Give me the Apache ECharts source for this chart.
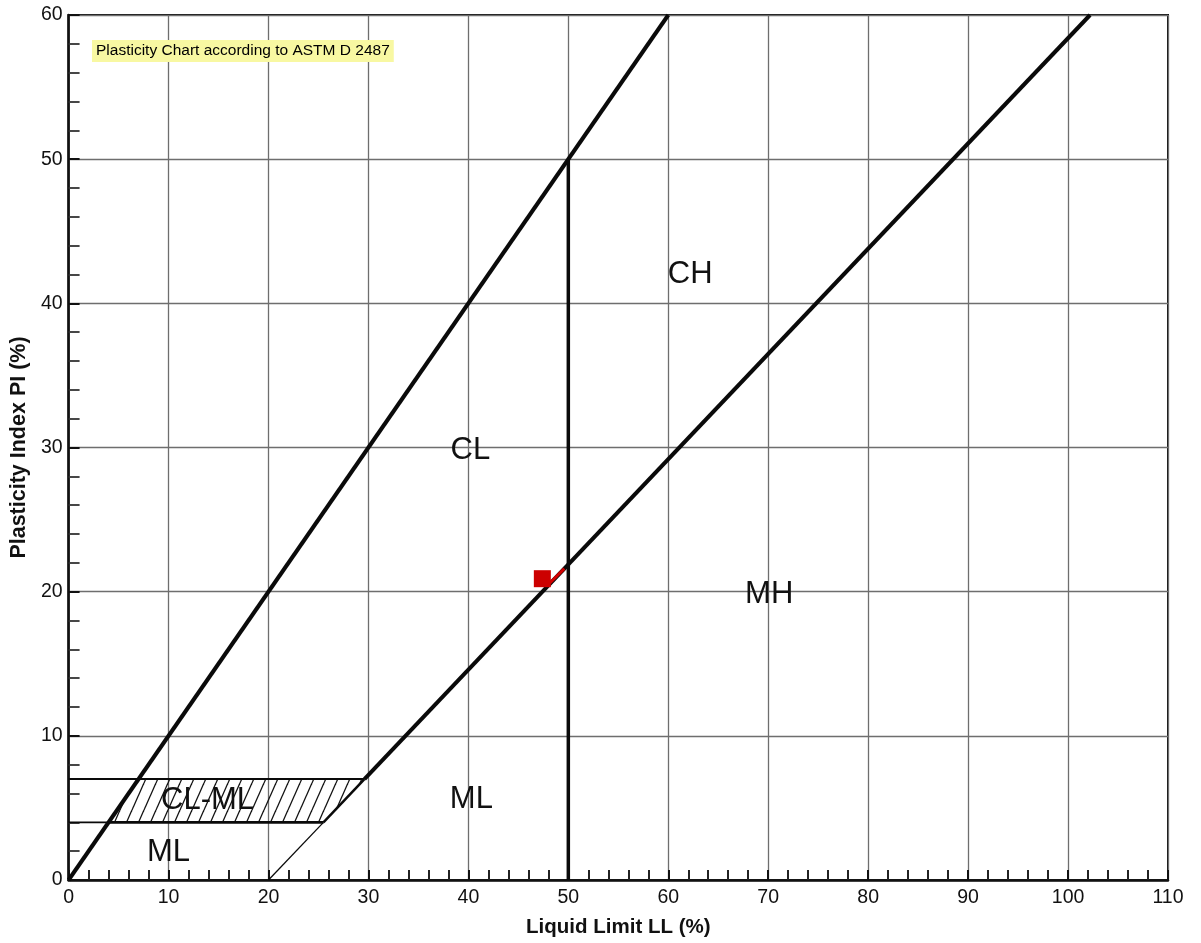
<!DOCTYPE html>
<html>
<head>
<meta charset="utf-8">
<script src="https://cdn.jsdelivr.net/npm/echarts@6/dist/echarts.min.js"></script>
<style>html,body{margin:0;padding:0;background:#fff}#c{width:1201px;height:943px}</style>
</head>
<body>
<div id="c"></div>
<script>
// ---- data ----
const titleText = 'Plasticity Chart according to ASTM D 2487';
const xAxisTitle = 'Liquid Limit LL (%)';
const yAxisTitle = 'Plasticity Index PI (%)';
const xRange = [0, 110];
const yRange = [0, 60];
const uLine = [[0, 0], [60, 60]];
const aLineUpper = [[29.6, 7], [102.2, 60]];
const aLineMid = [[25.5, 4], [29.6, 7]];
const aLineLower = [[20, 0], [25.5, 4]];
const llDivider = [[50, 0], [50, 50]];
const pi7Line = [[0, 7], [29.6, 7]];
const pi4LineLeft = [[0, 4], [4, 4]];
const pi4LineRight = [[4, 4], [25.5, 4]];
const clmlZone = [[4, 4], [7, 7], [29.6, 7], [25.5, 4]];
const samplePoint = [[47.4, 20.9]];
const sampleSegment = [[48.0, 20.5], [49.6, 21.6]];
const zoneNames = ['CH', 'CL', 'MH', 'ML', 'ML', 'CL-ML'];
const zoneLL = [62.2, 40.2, 70.1, 40.3, 10.0, 13.9];
const zonePI = [42.0, 29.8, 19.8, 5.6, 1.9, 5.5];

// ---- chart ----
const FONT = '"Liberation Sans", Arial, Helvetica, sans-serif';
const chart = echarts.init(document.getElementById('c'), null, {renderer: 'canvas'});

// hatch pattern
const hc = document.createElement('canvas');
const HW = 12, HH = 27;
hc.width = HW; hc.height = HH;
const hx = hc.getContext('2d');
hx.strokeStyle = '#111';
hx.lineWidth = 1.3;
for (const off of [-HW, 0, HW]) {
  hx.beginPath();
  hx.moveTo(off, HH);
  hx.lineTo(off + HW, 0);
  hx.stroke();
}

function seg(data, width, color, z) {
  return {
    type: 'line', data: data, symbol: 'none', silent: true, z: z || 4,
    lineStyle: {color: color || '#0a0a0a', width: width, cap: 'butt'},
    animation: false
  };
}

const zoneData = zoneNames.map((n, i) => ({name: n, value: [zoneLL[i], zonePI[i]]}));

const option = {
  backgroundColor: '#fff',
  animation: false,
  grid: {left: 67, right: 33, top: 15, bottom: 62, show: true, borderColor: '#111', borderWidth: 2, backgroundColor: 'transparent'},
  xAxis: {
    type: 'value', min: xRange[0], max: xRange[1], interval: 10,
    axisLine: {lineStyle: {color: '#111', width: 2.5}},
    axisTick: {show: true, inside: true, length: 10, lineStyle: {color: '#111', width: 2}},
    minorTick: {show: true, splitNumber: 5, length: 10, lineStyle: {color: '#222', width: 2}},
    splitLine: {show: true, lineStyle: {color: '#6e6e6e', width: 1.3}},
    axisLabel: {color: '#111', fontSize: 19.5, fontFamily: FONT, margin: 8},
    name: xAxisTitle, nameLocation: 'middle', nameGap: 37,
    nameTextStyle: {color: '#111', fontSize: 20.5, fontWeight: 'bold', fontFamily: FONT}
  },
  yAxis: {
    type: 'value', min: yRange[0], max: yRange[1], interval: 10,
    axisLine: {lineStyle: {color: '#111', width: 2.5}},
    axisTick: {show: true, inside: true, length: 11, lineStyle: {color: '#111', width: 2}},
    minorTick: {show: true, splitNumber: 5, length: 11, lineStyle: {color: '#333', width: 1.8}},
    splitLine: {show: true, lineStyle: {color: '#6e6e6e', width: 1.3}},
    axisLabel: {color: '#111', fontSize: 19.5, fontFamily: FONT, margin: 6},
    name: yAxisTitle, nameLocation: 'middle', nameGap: 34, nameRotate: 90,
    nameTextStyle: {color: '#111', fontSize: 21.5, fontWeight: 'bold', fontFamily: FONT}
  },
  graphic: [{
    type: 'text', left: 92, top: 40, z: 100,
    style: {
      text: titleText, fill: '#000', font: '15.5px ' + FONT,
      backgroundColor: '#f8f8a2', padding: [3, 4, 3, 4]
    }
  }],
  series: [
    {
      type: 'scatter', data: zoneData, symbolSize: 1, silent: true, z: 2,
      itemStyle: {color: 'rgba(0,0,0,0)', opacity: 1},
      label: {show: true, position: 'inside', formatter: p => p.name, color: '#111', fontSize: 31, fontFamily: FONT}
    },
    {
      type: 'custom', silent: true, z: 3, data: [0],
      renderItem: (params, api) => {
        const pts = clmlZone.map(p => api.coord(p));
        return {type: 'polygon', shape: {points: pts}, style: {fill: {image: hc, repeat: 'repeat'}, stroke: null}};
      }
    },
    seg(uLine, 4),
    seg(aLineUpper, 4),
    seg(aLineMid, 2.5),
    seg(aLineLower, 1.3),
    seg(llDivider, 3.5),
    seg(pi7Line, 2),
    seg(pi4LineLeft, 1.6),
    seg(pi4LineRight, 2.8),
    seg(sampleSegment, 3, '#d40000', 6),
    {
      type: 'scatter', data: samplePoint, symbol: 'rect', symbolSize: 17, silent: true, z: 7,
      itemStyle: {color: '#cc0000', opacity: 1}
    }
  ]
};
chart.setOption(option);
</script>
</body>
</html>
